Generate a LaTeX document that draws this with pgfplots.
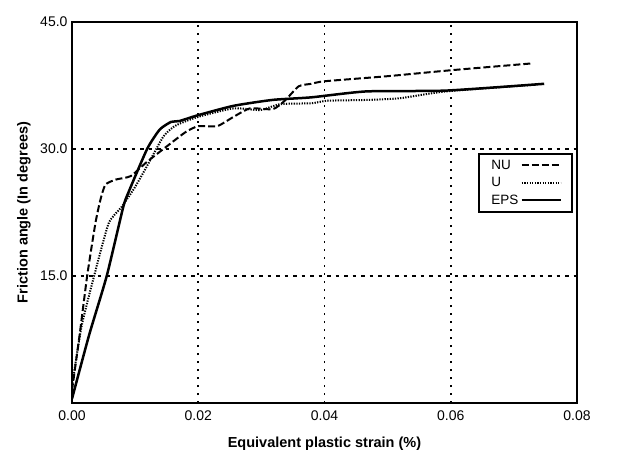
\documentclass[border=0pt]{standalone}
\usepackage{fontspec}
\setmainfont{Liberation Sans}
\usepackage{pgfplots}
\pgfplotsset{compat=1.18}
\begin{document}
\begin{tikzpicture}
\begin{axis}[
  scale only axis,
  width=505pt, height=381pt,
  xmin=0, xmax=0.08, ymin=0, ymax=45,
  scaled x ticks=false, scaled y ticks=false,
  xtick={0,0.02,0.04,0.06,0.08},
  xticklabels={0.00,0.02,0.04,0.06,0.08},
  ytick={15,30,45},
  yticklabels={15.0,30.0,45.0},
  major tick length=0pt,
  tick label style={font=\fontsize{14}{16}\selectfont},
  /pgf/number format/assume math mode=true,
  xticklabel style={yshift=-4pt},
  yticklabel style={xshift=-1pt},
  grid=major,
  x grid style={black, line width=1.7pt, dash pattern=on 2pt off 6pt},
  y grid style={black, line width=1.7pt, dash pattern=on 3.5pt off 5pt},
  axis line style={line width=2pt},
  xlabel={Equivalent plastic strain (\%)},
  ylabel={Friction angle (In degrees)},
  label style={font=\fontsize{14.5}{16}\selectfont\bfseries},
  xlabel style={at={(rel axis cs:0.5,0)}, anchor=center, yshift=-41pt},
  ylabel style={at={(rel axis cs:0,0.5)}, anchor=center, yshift=48pt},
  legend plot pos=right,
  legend style={at={(rel axis cs:0.992,0.656)}, anchor=north east,
    draw=black, line width=2pt, font=\fontsize{13.5}{15}\selectfont,
    inner xsep=10pt, inner ysep=4pt, row sep=2.5pt},
  legend cell align=left,
  legend image code/.code={\draw[#1] (0pt,0pt) -- (39pt,0pt);},
]
\addplot[black, line width=2pt, dash pattern=on 7pt off 3pt, smooth, tension=0.35] coordinates {
(0,1.5) (0.0012,8) (0.0024,15) (0.0037,21.2) (0.0045,24) (0.0053,25.8) (0.007,26.4) (0.0093,26.8)
(0.0119,28.5) (0.015,30.3) (0.018,32.0) (0.02,32.7) (0.023,32.7) (0.0256,33.8) (0.0282,34.8)
(0.0318,34.7) (0.0337,35.7) (0.0359,37.4) (0.0379,37.7) (0.04,38.0) (0.05,38.6) (0.06,39.3) (0.0727,40.1)
};
\addlegendentry{NU}
\addplot[black, line width=2pt, dash pattern=on 1.3pt off 1.3pt, smooth, tension=0.35] coordinates {
(0,2) (0.0015,9) (0.0035,15) (0.0058,21.2) (0.0078,23.1) (0.0099,25.4) (0.0119,28.0) (0.0145,31.5)
(0.0165,32.8) (0.02,33.8) (0.0256,34.8) (0.0298,34.6) (0.033,35.3) (0.0379,35.4) (0.0405,35.7)
(0.047,35.8) (0.052,36.0) (0.0592,36.8) (0.0735,37.6)
};
\addlegendentry{U}
\addplot[black, line width=2.5pt, smooth, tension=0.35] coordinates {
(0,0.5) (0.0027,8) (0.0055,15) (0.0081,23.1) (0.0089,24.8) (0.0119,30.0) (0.0139,32.3) (0.0157,33.2)
(0.017,33.3) (0.02,34.0) (0.0256,35.1) (0.0318,35.8) (0.0379,36.1) (0.0466,36.8) (0.0593,36.9) (0.0748,37.7)
};
\addlegendentry{EPS}
\end{axis}
\path ([xshift=-72pt,yshift=-65pt]current axis.south west) rectangle ([xshift=53pt,yshift=22pt]current axis.north east);
\end{tikzpicture}
\end{document}
